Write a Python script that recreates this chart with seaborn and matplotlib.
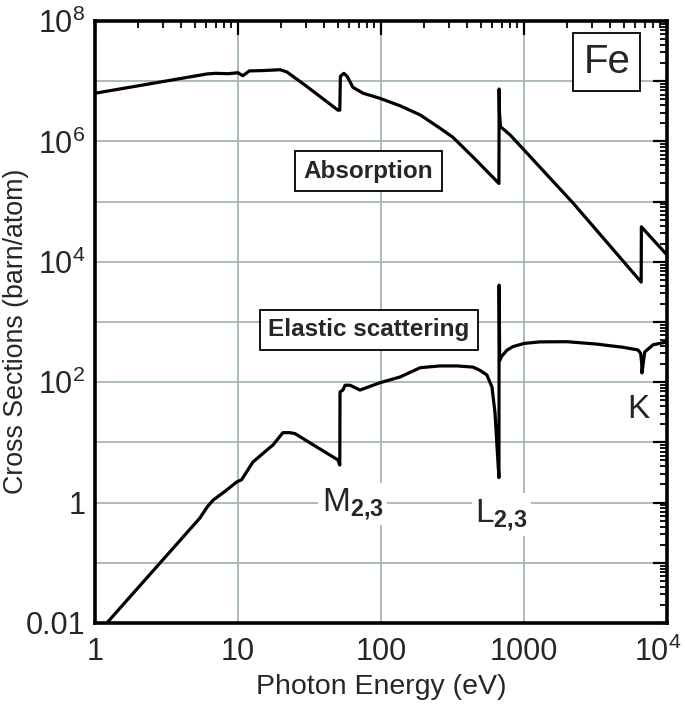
import numpy as np
import pandas as pd
import matplotlib
matplotlib.use("Agg")
import matplotlib.pyplot as plt
import matplotlib.ticker as mticker
import matplotlib.transforms as mtransforms
import seaborn as sns

# ---- data ----
abs_energy = [1.0, 6.1, 7.0, 8.5, 10.0, 10.8, 12.0, 15.0, 19.7, 22.0, 30.0, 50.0,
              51.5, 52.0, 55.0, 58.0, 63.6, 75.0, 98.0, 136.0, 188.0, 258.0, 318.0,
              440.0, 668.0, 670.0, 674.0, 685.0, 740.0, 800.0, 2200.0, 6600.0,
              6620.0, 10000.0]
abs_sigma = [6.3e6, 1.32e7, 1.35e7, 1.33e7, 1.38e7, 1.23e7, 1.48e7, 1.5e7, 1.55e7,
             1.42e7, 8.3e6, 3.3e6, 3.3e6, 1.2e7, 1.35e7, 1.2e7, 7.9e6, 6.3e6, 5.2e6,
             3.9e6, 2.75e6, 1.66e6, 1.17e6, 5.5e5, 2.0e5, 7.4e6, 3.0e6, 1.75e6,
             1.5e6, 1.28e6, 9.5e4, 4.6e3, 3.8e4, 1.3e4]

el_energy = [1.21, 5.4, 6.1, 6.7, 8.0, 9.8, 10.6, 12.7, 15.0, 17.6, 20.6, 23.0, 25.0,
             50.0, 51.5, 51.7, 54.2, 56.0, 60.7, 71.3, 98.5, 136.0, 188.0, 258.0,
             340.0, 440.0, 490.0, 550.0, 597.0, 627.0, 648.0, 668.0, 670.0, 676.0,
             700.0, 760.0, 838.0, 1000.0, 1294.0, 2000.0, 3200.0, 4920.0, 6270.0,
             6550.0, 6660.0, 6680.0, 6990.0, 7980.0, 10000.0]
el_sigma = [0.01, 0.55, 0.85, 1.1, 1.5, 2.2, 2.4, 4.7, 6.6, 9.1, 14.5, 14.5, 14.0,
            5.1, 4.2, 69.0, 74.0, 89.0, 89.0, 74.0, 98.0, 122.0, 174.0, 186.0,
            186.0, 178.0, 158.0, 132.0, 83.0, 31.0, 8.3, 2.6, 4100.0, 230.0,
            270.0, 340.0, 390.0, 440.0, 467.0, 470.0, 430.0, 380.0, 343.0,
            300.0, 200.0, 142.0, 318.0, 417.0, 467.0]

x_ticks = [1, 10, 100, 1000, 10000]
x_labels = ["1", "10", "100", "1000", r"$\mathregular{10^{4}}$"]
y_label_map = {-2: "0.01", 0: "1", 2: r"$\mathregular{10^{2}}$",
               4: r"$\mathregular{10^{4}}$", 6: r"$\mathregular{10^{6}}$",
               8: r"$\mathregular{10^{8}}$"}

# ---- style ----
sns.set_style("white")
plt.rcParams["font.family"] = ["Liberation Sans", "DejaVu Sans"]
plt.rcParams["mathtext.fontset"] = "custom"
plt.rcParams["mathtext.rm"] = "Liberation Sans"
plt.rcParams["mathtext.it"] = "Liberation Sans:italic"
plt.rcParams["mathtext.bf"] = "Liberation Sans:bold"

fig = plt.figure(figsize=(6.85, 7.06), dpi=100)
ax = fig.add_axes([0.1387, 0.1176, 0.8350, 0.8527])

df_abs = pd.DataFrame({"E": abs_energy, "s": abs_sigma})
df_el = pd.DataFrame({"E": el_energy, "s": el_sigma})
sns.lineplot(data=df_abs, x="E", y="s", ax=ax, color="black", lw=2.3,
             sort=False, estimator=None, zorder=3)
sns.lineplot(data=df_el, x="E", y="s", ax=ax, color="black", lw=2.3,
             sort=False, estimator=None, zorder=3)

ax.set_xscale("log")
ax.set_yscale("log")
ax.set_xlim(1, 1e4)
ax.set_ylim(1e-2, 1e8)

ax.xaxis.set_major_locator(mticker.FixedLocator(x_ticks))
ax.xaxis.set_major_formatter(mticker.FixedFormatter(x_labels))
ax.xaxis.set_minor_locator(mticker.LogLocator(base=10, subs=np.arange(2, 10), numticks=50))
ax.xaxis.set_minor_formatter(mticker.NullFormatter())

ax.yaxis.set_major_locator(mticker.LogLocator(base=10, numticks=30))
ax.yaxis.set_major_formatter(mticker.FuncFormatter(
    lambda v, p: y_label_map.get(int(round(np.log10(v))), "")))
ax.yaxis.set_minor_locator(mticker.LogLocator(base=10, subs=np.arange(2, 10), numticks=50))
ax.yaxis.set_minor_formatter(mticker.NullFormatter())

ax.grid(which="major", color="#a5b6b6", lw=1.3, zorder=0)
ax.tick_params(which="both", direction="in", top=True, right=True, color="black")
ax.tick_params(which="major", length=10, width=1.6, labelsize=22)
ax.tick_params(which="minor", length=5, width=1.3)
ax.tick_params(axis="y", which="major", pad=7)
ax.tick_params(axis="x", which="major", pad=10)
for sp in ax.spines.values():
    sp.set_linewidth(2.6)
    sp.set_color("black")
    sp.set_zorder(5)

ax.set_xlabel("Photon Energy (eV)", fontsize=20.5, labelpad=4)
ax.set_ylabel("Cross Sections (barn/atom)", fontsize=19.3)
ax.yaxis.set_label_coords(-0.116, 0.485)

# shift the last x tick label slightly left (as in the reference)
last = ax.xaxis.get_major_ticks()[-1].label1
last.set_transform(last.get_transform() +
                   mtransforms.ScaledTranslation(-9 / 100, 0, fig.dpi_scale_trans))

# boxed labels
box = dict(boxstyle="square,pad=0.35", fc="white", ec="black", lw=1.3)
ax.text(3800, 2.1e7, "Fe", fontsize=29, ha="center", va="center",
        bbox=dict(boxstyle="square,pad=0.25", fc="white", ec="black", lw=1.3), zorder=6)
ax.text(82, 3.2e5, "Absorption", fontsize=17.5, fontweight="bold", ha="center",
        va="center", bbox=box, zorder=6)
ax.text(82, 740, "Elastic scattering", fontsize=17.5, fontweight="bold", ha="center",
        va="center", bbox=box, zorder=6)

wbox = dict(boxstyle="square,pad=0.1", fc="white", ec="none")
ax.text(38.5, 0.72, r"$\mathrm{M}_{\mathbf{2{,}3}}$", fontsize=24, ha="left",
        va="baseline", bbox=wbox, zorder=4)
ax.text(457, 0.48, r"$\mathrm{L}_{\mathbf{2{,}3}}$", fontsize=24, ha="left",
        va="baseline", bbox=wbox, zorder=4)
ax.text(5250, 25, "K", fontsize=24, ha="left", va="baseline", bbox=wbox, zorder=4)

fig.savefig("out.png", dpi=100)
